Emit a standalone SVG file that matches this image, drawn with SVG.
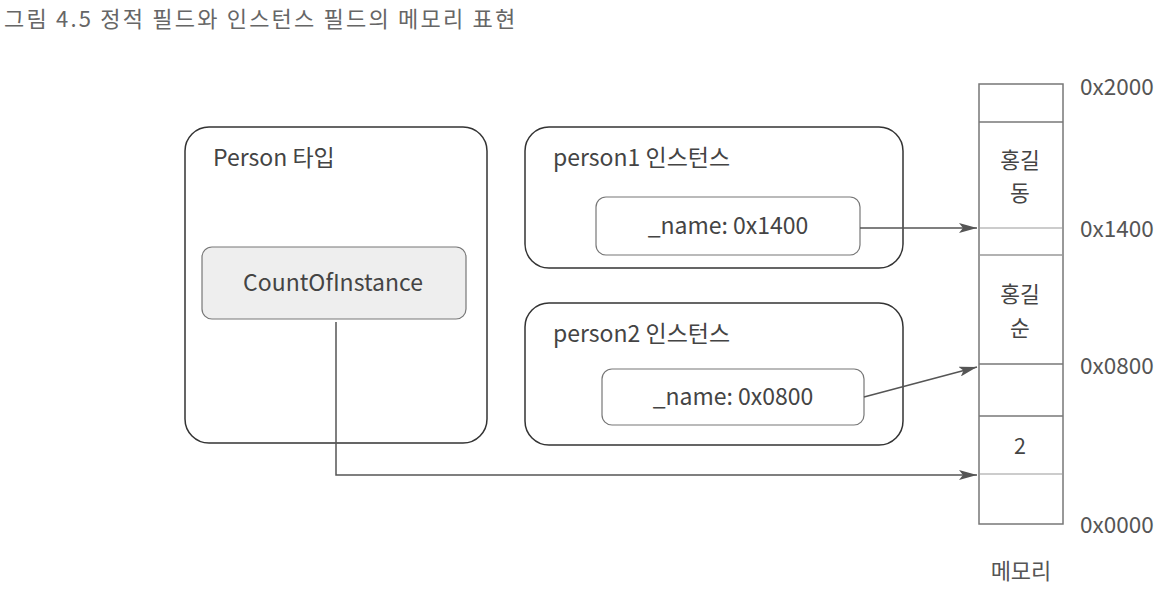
<svg xmlns="http://www.w3.org/2000/svg" width="1168" height="600" viewBox="0 0 1168 600">
<style>
text{font-family:"Noto Sans CJK KR","Noto Sans",sans-serif;fill:#444;}
.title{font-size:22px;fill:#666;letter-spacing:2.2px;}
.lbl{font-size:23px;}
.big{fill:#fff;stroke:#333;stroke-width:1.5;}
.inner{fill:#fff;stroke:#777;stroke-width:1.2;}
.mem{fill:#fff;stroke:#777;stroke-width:1.5;}
.dl{stroke:#777;stroke-width:1.5;}
.ll{stroke:#ccc;stroke-width:2;}
.addr{font-size:22.5px;fill:#555;}
.conn{fill:none;stroke:#555;stroke-width:1.5;}
</style>
<defs>
<marker id="arr" viewBox="0 0 18 10" refX="18" refY="5" markerWidth="18" markerHeight="10" markerUnits="userSpaceOnUse" orient="auto">
<path d="M0,0 L18,5 L0,10 L4,5 z" fill="#555"/>
</marker>
</defs>
<rect width="1168" height="600" fill="#fff"/>
<text class="title" x="4" y="27">그림 4.5 정적 필드와 인스턴스 필드의 메모리 표현</text>

<g id="person-type">
<rect class="big" x="185" y="127" width="302" height="316" rx="24"/>
<text class="lbl" x="213" y="166">Person 타입</text>
</g>
<g id="count-of-instance">
<rect x="202" y="247" width="264" height="72" rx="10" fill="#eee" stroke="#777" stroke-width="1.2"/>
<text class="lbl" x="333" y="291" text-anchor="middle">CountOfInstance</text>
</g>

<g id="person1">
<rect class="big" x="525" y="127" width="378" height="141" rx="24"/>
<text class="lbl" x="553" y="166">person1 인스턴스</text>
</g>
<g id="person1-name">
<rect class="inner" x="596" y="197" width="264" height="58" rx="10"/>
<text class="lbl" x="728" y="234" text-anchor="middle">_name: 0x1400</text>
</g>

<g id="person2">
<rect class="big" x="525" y="303" width="378" height="142" rx="24"/>
<text class="lbl" x="553" y="342">person2 인스턴스</text>
</g>
<g id="person2-name">
<rect class="inner" x="602" y="369" width="262" height="56" rx="10"/>
<text class="lbl" x="733" y="405" text-anchor="middle">_name: 0x0800</text>
</g>

<g id="memory">
<rect class="mem" x="979" y="84" width="84" height="440"/>
<line class="dl" x1="979" y1="122" x2="1063" y2="122"/>
<line class="ll" x1="980" y1="228" x2="1062" y2="228"/>
<line class="dl" x1="979" y1="255" x2="1063" y2="255" style="stroke:#999"/>
<line class="dl" x1="979" y1="364" x2="1063" y2="364"/>
<line class="dl" x1="979" y1="416" x2="1063" y2="416"/>
<line class="ll" x1="980" y1="474" x2="1062" y2="474"/>
<text class="lbl" x="1020" y="168" text-anchor="middle" style="font-size:21.5px">홍길</text>
<text class="lbl" x="1020" y="201" text-anchor="middle" style="font-size:21.5px">동</text>
<text class="lbl" x="1020" y="302" text-anchor="middle" style="font-size:21.5px">홍길</text>
<text class="lbl" x="1020" y="336" text-anchor="middle" style="font-size:21.5px">순</text>
<text class="lbl" x="1020" y="454" text-anchor="middle" style="font-size:21.5px">2</text>
<text class="lbl" x="1021" y="579" text-anchor="middle" style="font-size:22px;fill:#555">메모리</text>
</g>
<g id="addresses">
<text class="addr" x="1080" y="95">0x2000</text>
<text class="addr" x="1080" y="237">0x1400</text>
<text class="addr" x="1080" y="374">0x0800</text>
<text class="addr" x="1080" y="533">0x0000</text>
</g>

<g id="connectors">
<line class="conn" x1="860" y1="228" x2="977" y2="228" marker-end="url(#arr)"/>
<line class="conn" x1="864" y1="397" x2="977" y2="367" marker-end="url(#arr)"/>
<polyline class="conn" points="336,322 336,475 977,475" marker-end="url(#arr)"/>
</g>
</svg>
